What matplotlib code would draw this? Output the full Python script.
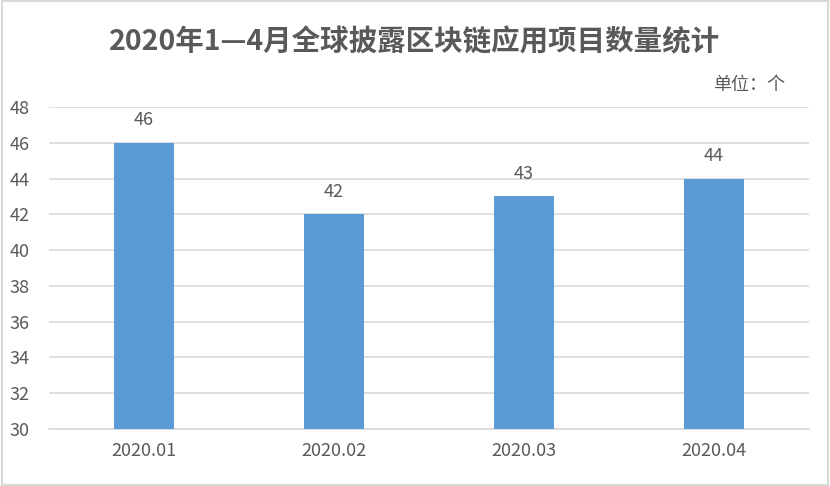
import matplotlib
matplotlib.use("Agg")
import matplotlib.pyplot as plt
from matplotlib.patches import Rectangle

plt.rcParams['font.family'] = ['Noto Sans CJK SC', 'DejaVu Sans']

categories = ["2020.01", "2020.02", "2020.03", "2020.04"]
values = [46, 42, 43, 44]
yticks = [30, 32, 34, 36, 38, 40, 42, 44, 46, 48]

title = "2020年1—4月全球披露区块链应用项目数量统计"
unit = "单位：个"

text_color = "#595959"
bar_color = "#5B9BD5"
grid_color = "#D9D9D9"

fig = plt.figure(figsize=(8.30, 4.86), dpi=100)
ax = fig.add_axes([49/830, 1-429/486, 760/830, 322/486])

x = list(range(len(categories)))
bars = ax.bar(x, [v - 30 for v in values], bottom=30, width=60/190, color=bar_color, zorder=3)
for xi, v in zip(x, values):
    ax.text(xi, v + 0.75, str(v), ha='center', va='bottom', fontsize=13, color=text_color)

ax.set_xlim(-0.5, len(categories) - 0.5)
ax.set_ylim(30, 48)
ax.set_yticks(yticks)
ax.set_yticklabels([str(t) for t in yticks], fontsize=13, color=text_color)
ax.set_xticks(x)
ax.set_xticklabels(categories, fontsize=13, color=text_color)
ax.yaxis.grid(True, color=grid_color, linewidth=1.2, zorder=0)
ax.tick_params(axis='both', length=0)
ax.tick_params(axis='x', pad=9)
ax.tick_params(axis='y', pad=14)
for s in ['left', 'right', 'top']:
    ax.spines[s].set_visible(False)
ax.spines['bottom'].set_color(grid_color)
ax.spines['bottom'].set_linewidth(1.2)

fig.text(0.5, 1-42/486, title, ha='center', va='center', fontsize=20.5, fontweight='bold', color=text_color)
fig.text(785/830, 1-85/486, unit, ha='right', va='center', fontsize=13, color=text_color)

fig.patches.append(Rectangle((0.002, 0.003), 0.996, 0.994, transform=fig.transFigure,
                             fill=False, edgecolor=grid_color, linewidth=1.5))

fig.savefig("out.png", dpi=100)
